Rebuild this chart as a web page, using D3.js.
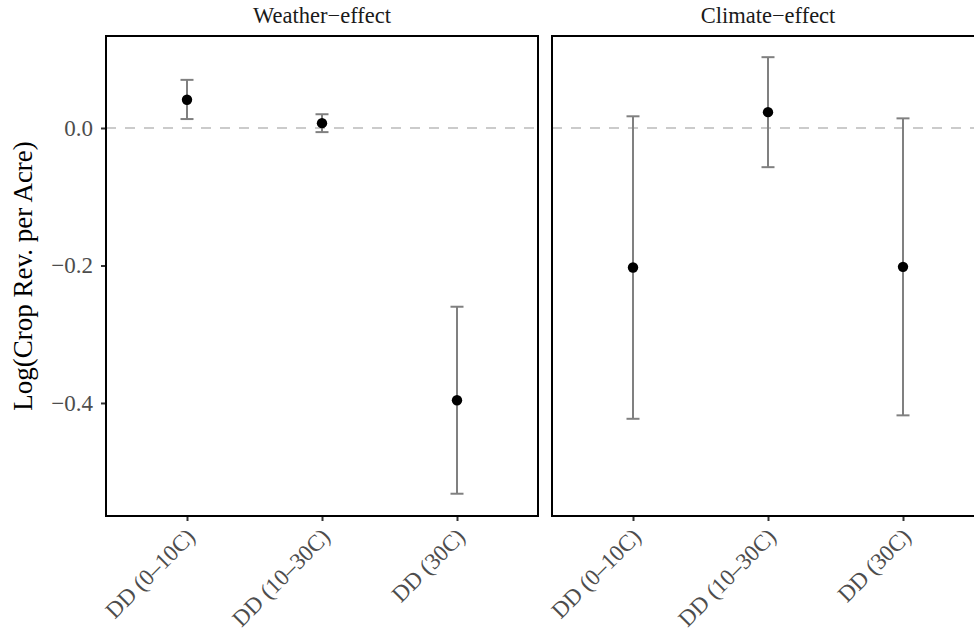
<!DOCTYPE html>
<html>
<head>
<meta charset="utf-8">
<script src="https://cdn.jsdelivr.net/npm/d3@7"></script>
<style>
	body { margin: 0; background: #fff; }
	svg { display: block; }
	text { font-family: "Liberation Serif", "DejaVu Serif", serif; }
</style>
</head>
<body>
<div id="chart"></div>
<script>
(function(){
	'use strict';

	// DATA
	var categories = ['DD (0\u201310C)', 'DD (10\u201330C)', 'DD (30C)'];
	var facets = ['Weather\u2212effect', 'Climate\u2212effect'];
	var weatherEst = [0.041, 0.007, -0.396];
	var weatherLo = [0.013, -0.006, -0.532];
	var weatherHi = [0.070, 0.020, -0.260];
	var climateEst = [-0.203, 0.023, -0.202];
	var climateLo = [-0.423, -0.057, -0.418];
	var climateHi = [0.017, 0.103, 0.014];
	var yTicks = [0.0, -0.2, -0.4];

	var seriesByFacet = [
		{ est: weatherEst, lo: weatherLo, hi: weatherHi },
		{ est: climateEst, lo: climateLo, hi: climateHi }
	];

	var W = 974, H = 632;
	var panelTop = 36, panelBot = 516;
	var panelLefts = [106, 552], panelW = 432;

	var svg = d3.select('#chart').append('svg')
		.attr('width', W).attr('height', H);

	var yScale = d3.scaleLinear()
		.domain([-0.5644, 0.1338])
		.range([panelBot, panelTop]);

	var fmt = function(d){ return d3.format('.1f')(d).replace('-', '\u2212'); };

	facets.forEach(function(name, fi){
		var x0 = panelLefts[fi];
		var s = seriesByFacet[fi];
		var xScale = d3.scalePoint()
			.domain(categories)
			.range([x0, x0 + panelW])
			.padding(0.6);

		var g = svg.append('g');

		// strip title
		g.append('text')
			.attr('x', x0 + panelW / 2)
			.attr('y', 23)
			.attr('text-anchor', 'middle')
			.attr('font-size', 22.5)
			.attr('fill', '#1a1a1a')
			.text(name);

		// zero reference line
		g.append('line')
			.attr('x1', x0).attr('x2', x0 + panelW)
			.attr('y1', yScale(0)).attr('y2', yScale(0))
			.attr('stroke', '#bababa')
			.attr('stroke-width', 1.7)
			.attr('stroke-dasharray', '10,9');

		// error bars
		var bars = g.selectAll('g.err').data(categories).enter().append('g').attr('class', 'err');
		bars.append('line')
			.attr('x1', function(d){ return xScale(d); })
			.attr('x2', function(d){ return xScale(d); })
			.attr('y1', function(d, i){ return yScale(s.lo[i]); })
			.attr('y2', function(d, i){ return yScale(s.hi[i]); })
			.attr('stroke', '#808080').attr('stroke-width', 2);
		['lo', 'hi'].forEach(function(k){
			bars.append('line')
				.attr('x1', function(d){ return xScale(d) - 6.5; })
				.attr('x2', function(d){ return xScale(d) + 6.5; })
				.attr('y1', function(d, i){ return yScale(s[k][i]); })
				.attr('y2', function(d, i){ return yScale(s[k][i]); })
				.attr('stroke', '#808080').attr('stroke-width', 2);
		});

		// points
		g.selectAll('circle').data(categories).enter().append('circle')
			.attr('cx', function(d){ return xScale(d); })
			.attr('cy', function(d, i){ return yScale(s.est[i]); })
			.attr('r', 5.2)
			.attr('fill', '#000');

		// panel border
		g.append('rect')
			.attr('x', x0).attr('y', panelTop)
			.attr('width', panelW).attr('height', panelBot - panelTop)
			.attr('fill', 'none').attr('stroke', '#000').attr('stroke-width', 2);

		// x axis
		var xAxis = d3.axisBottom(xScale).tickSize(4).tickPadding(6);
		var ax = g.append('g')
			.attr('transform', 'translate(0,' + (panelBot + 1) + ')')
			.call(xAxis);
		ax.select('.domain').remove();
		ax.selectAll('.tick line').attr('stroke', '#333').attr('stroke-width', 2);
		ax.selectAll('.tick text')
			.attr('font-size', 23)
			.attr('fill', '#4d4d4d')
			.attr('text-anchor', 'end')
			.attr('dy', null)
			.attr('y', 0)
			.attr('transform', 'translate(9,21) rotate(-45)');

		// y axis only on first panel
		if (fi === 0) {
			var yAxis = d3.axisLeft(yScale).tickValues(yTicks).tickFormat(fmt).tickSize(4).tickPadding(8);
			var ay = g.append('g')
				.attr('transform', 'translate(' + (x0 - 1) + ',0)')
				.call(yAxis);
			ay.select('.domain').remove();
			ay.selectAll('.tick line').attr('stroke', '#333').attr('stroke-width', 2);
			ay.selectAll('.tick text')
				.attr('font-size', 23)
				.attr('fill', '#4d4d4d');
		}
	});

	// y title
	svg.append('text')
		.attr('transform', 'translate(32,' + ((panelTop + panelBot) / 2) + ') rotate(-90)')
		.attr('text-anchor', 'middle')
		.attr('font-size', 27)
		.attr('fill', '#000')
		.text('Log(Crop Rev. per Acre)');
})();
</script>
</body>
</html>
